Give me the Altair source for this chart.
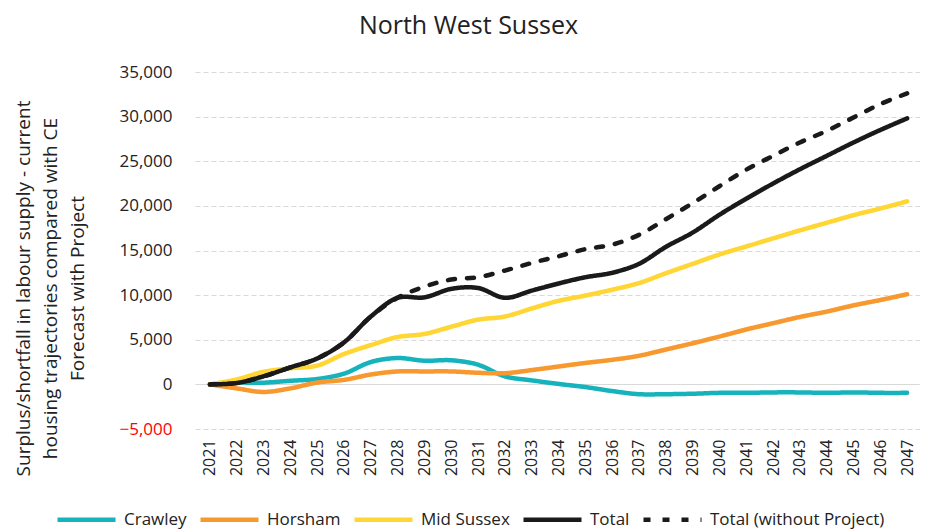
import altair as alt
import pandas as pd

years = list(range(2021, 2048))
crawley = [0, 190, 190, 400, 600, 1200, 2500, 2950, 2650, 2700, 2200, 900, 450, 50,
           -300, -750, -1100, -1100, -1050, -950, -950, -900, -900, -950, -900, -950, -950]
horsham = [0, -450, -850, -450, 200, 500, 1100, 1450, 1450, 1450, 1300, 1250, 1600, 2000,
           2400, 2750, 3200, 3900, 4600, 5350, 6150, 6850, 7550, 8150, 8850, 9450, 10100]
mid_sussex = [0, 550, 1400, 1800, 2100, 3400, 4400, 5300, 5650, 6450, 7250, 7600, 8500, 9350,
              9950, 10600, 11350, 12450, 13500, 14550, 15450, 16350, 17250, 18100, 18950, 19700, 20500]
total = [0, 150, 900, 1900, 2900, 4700, 7600, 9700, 9750, 10700, 10800, 9700, 10500, 11300,
         12000, 12500, 13500, 15400, 17000, 19000, 20800, 22500, 24100, 25600, 27100, 28500, 29800]
total_wo = [0, 150, 900, 1900, 2900, 4700, 7600, 9700, 10950, 11750, 12000, 12750, 13600, 14350,
            15150, 15650, 16750, 18500, 20300, 22200, 24050, 25600, 27100, 28400, 29900, 31400, 32600]

series_names = ["Crawley", "Horsham", "Mid Sussex", "Total", "Total (without Project)"]
series_colors = ["#17B3BC", "#F7992F", "#FFD633", "#1A1A1A", "#1A1A1A"]
series_dash = [[1, 0], [1, 0], [1, 0], [1, 0], [7, 12]]
series_width = [4.5, 4.5, 4.5, 5.5, 5]
draw_order = ["Crawley", "Horsham", "Mid Sussex", "Total (without Project)", "Total"]
values_by_name = {"Crawley": crawley, "Horsham": horsham, "Mid Sussex": mid_sussex,
                  "Total": total, "Total (without Project)": total_wo}

rows = []
for i, name in enumerate(draw_order):
    for y, v in zip(years, values_by_name[name]):
        rows.append({"year": y, "value": v, "series": name, "ord": i})
df = pd.DataFrame(rows)

FONT = "Open Sans"

legend_props = dict(title=None, orient="none", direction="horizontal",
                    legendX=-140, legendY=416, symbolType="stroke",
                    symbolSize=3364, symbolStrokeWidth=5,
                    labelFont=FONT, labelFontSize=17, labelColor="#222222",
                    labelOffset=6, columnPadding=4, symbolLimit=0, labelLimit=400)

chart = alt.Chart(df).mark_line(interpolate="catmull-rom", strokeCap="round", strokeJoin="round").encode(
    x=alt.X("year:Q",
            scale=alt.Scale(domain=[2021 - 15 / 27, 2047 + 13 / 27], nice=False, zero=False),
            axis=alt.Axis(values=years, format="d", labelAngle=-90, labelAlign="right",
                          labelBaseline="middle", labelPadding=10, labelFontSize=16,
                          labelColor="#222222", grid=False, domain=False, ticks=False,
                          labelFont=FONT, title=None)),
    y=alt.Y("value:Q",
            scale=alt.Scale(domain=[-5000, 35000], nice=False),
            axis=alt.Axis(values=list(range(-5000, 35001, 5000)), format=",.0f",
                          labelFontSize=17, labelFont=FONT, labelPadding=23,
                          labelColor={"condition": {"test": "datum.value < 0", "value": "#FF0000"},
                                      "value": "#222222"},
                          grid=True, gridColor="#D9D9D9", gridWidth=1.2,
                          gridDash={"condition": {"test": "datum.value === 0", "value": [1, 0]},
                                    "value": [5, 3]},
                          domain=False, ticks=False,
                          title=["Surplus/shortfall in labour supply - current",
                                 "housing trajectories compared with CE",
                                 "Forecast with Project"],
                          titleFont=FONT, titleFontSize=19, titleFontWeight="normal",
                          titleColor="#222222", titleLineHeight=27, titleAngle=-90,
                          titleBaseline="top", titleAlign="center",
                          titleX=-181, titleY=216)),
    color=alt.Color("series:N", scale=alt.Scale(domain=series_names, range=series_colors),
                    legend=alt.Legend(**legend_props)),
    strokeDash=alt.StrokeDash("series:N", scale=alt.Scale(domain=series_names, range=series_dash),
                              legend=alt.Legend(**legend_props)),
    strokeWidth=alt.StrokeWidth("series:N", scale=alt.Scale(domain=series_names, range=series_width),
                                legend=None),
    order=alt.Order("ord:Q"),
).properties(
    width=725,
    height=357,
    padding={"left": 187, "top": 64, "right": 0, "bottom": 100},
    autosize=alt.AutoSizeParams(type="none"),
    title=alt.TitleParams("North West Sussex", font=FONT, fontSize=25, fontWeight="normal",
                          color="#222222", anchor="middle", dx=-89, offset=24),
).configure_view(stroke=None)

chart.save("out.html", embed_options={"renderer": "svg", "actions": False})
